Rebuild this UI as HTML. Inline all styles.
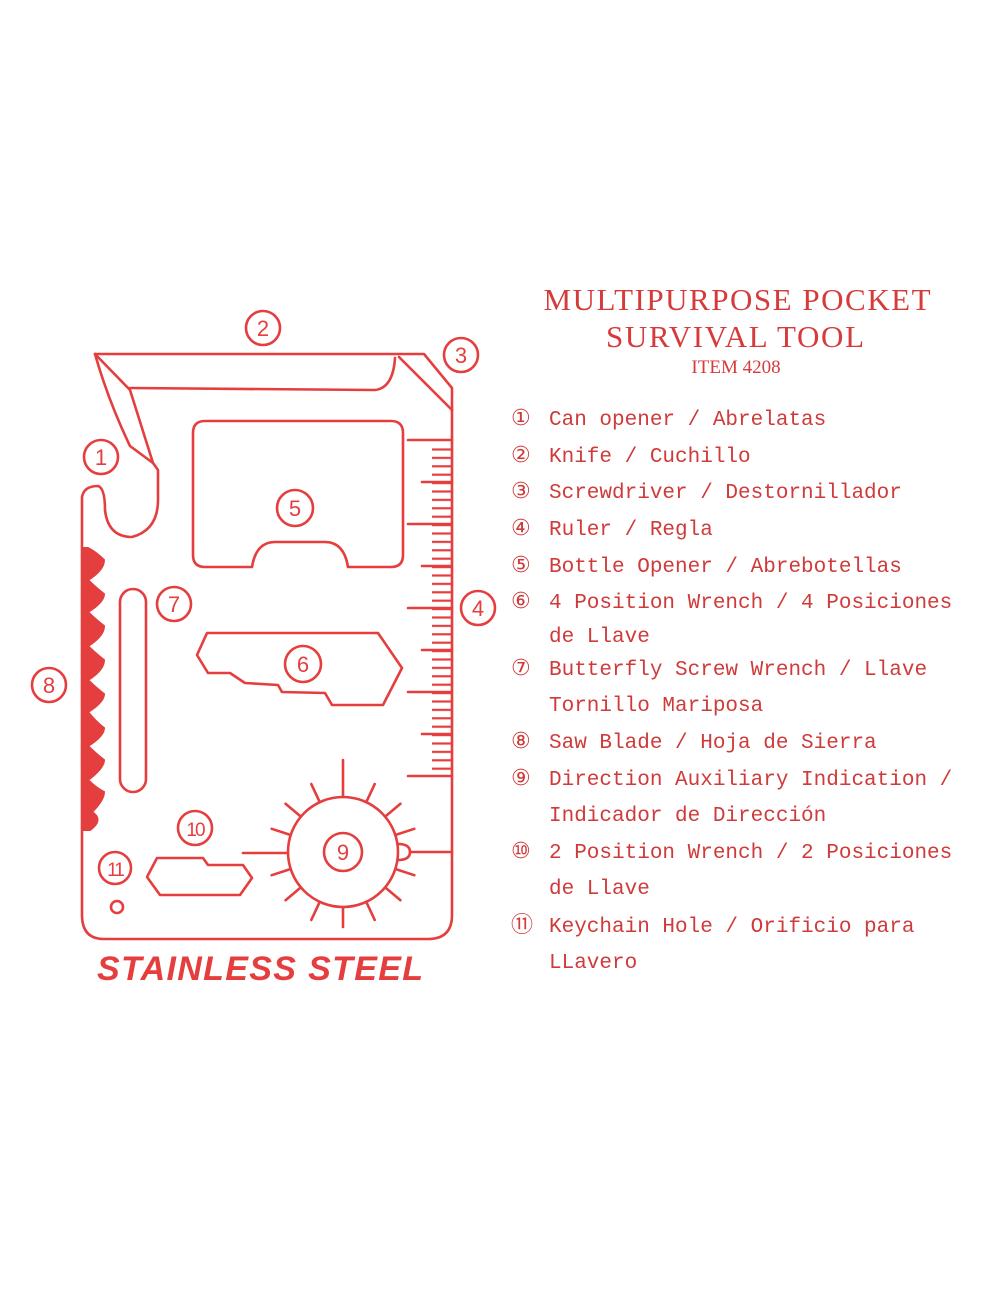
<!DOCTYPE html>
<html><head><meta charset="utf-8"><style>
html,body{margin:0;padding:0;background:#fff;}
body{width:1000px;height:1300px;position:relative;overflow:hidden;}
svg{position:absolute;left:0;top:0;}
.t{font-family:"Liberation Mono",monospace;font-size:21px;fill:#cf3a3a;}
.n{font-family:"DejaVu Sans","Noto Sans CJK JP",sans-serif;font-size:22px;fill:#cf3a3a;}
</style></head><body>
<svg width="1000" height="1300" viewBox="0 0 1000 1300">
<defs>
<pattern id="tick" x="0" y="440" width="30" height="8.4" patternUnits="userSpaceOnUse">
<rect x="0" y="0" width="30" height="2.2" fill="#e53e3e"/>
</pattern>
</defs>
<g fill="none" stroke="#e53e3e" stroke-width="2.6" stroke-linejoin="round" stroke-linecap="round">
<path d="M95,354 L424,354 L452,388 L452,915 Q452,939 428,939 L104,939 Q82,939 82,915 L82,497 Q84,486 98,486 Q105,488 105,510 Q108,537 132,537 Q158,530 158,500 L158,470 L153,463"/>
<path d="M95,354 Q108,400 130,446 L153,463"/>
<path d="M95,354 L130,390 L153,463"/>
<path d="M130,388 L375,390 Q393,388 395,358"/>
<path d="M399,357 L452,410"/>
<path d="M205,421 L391,421 Q403,421 403,433 L403,555 Q403,567 391,567 L348,567 Q344,542 325,542 L275,542 Q256,542 252,567 L205,567 Q193,567 193,555 L193,433 Q193,421 205,421 Z"/>
<rect x="120" y="589" width="26" height="203" rx="13"/>
<polygon points="207,633 378,633 402,668 383,705 332,705 325,693 282,692 278,685 245,683 230,673 208,673 197,655"/>
<polygon points="157,858 203,858 208,865 243,865 252,878 240,895 160,895 147,877"/>
<circle cx="117" cy="907" r="6"/>
<circle cx="343" cy="852" r="55"/>
<line x1="243" y1="853" x2="288" y2="853"/>
<path d="M398,844 Q410,844 410,852 Q410,860 398,860"/>
<line x1="410" y1="852" x2="452" y2="852"/>
<line x1="343" y1="797" x2="343" y2="760"/>
<g>
<line x1="398" y1="852" x2="418" y2="852" transform="rotate(-65 343 852)"/>
<line x1="398" y1="852" x2="418" y2="852" transform="rotate(-40 343 852)"/>
<line x1="398" y1="852" x2="418" y2="852" transform="rotate(-18 343 852)"/>
<line x1="398" y1="852" x2="418" y2="852" transform="rotate(18 343 852)"/>
<line x1="398" y1="852" x2="418" y2="852" transform="rotate(40 343 852)"/>
<line x1="398" y1="852" x2="418" y2="852" transform="rotate(65 343 852)"/>
<line x1="398" y1="852" x2="418" y2="852" transform="rotate(90 343 852)"/>
<line x1="398" y1="852" x2="418" y2="852" transform="rotate(115 343 852)"/>
<line x1="398" y1="852" x2="418" y2="852" transform="rotate(140 343 852)"/>
<line x1="398" y1="852" x2="418" y2="852" transform="rotate(162 343 852)"/>
<line x1="398" y1="852" x2="418" y2="852" transform="rotate(198 343 852)"/>
<line x1="398" y1="852" x2="418" y2="852" transform="rotate(220 343 852)"/>
<line x1="398" y1="852" x2="418" y2="852" transform="rotate(245 343 852)"/>
</g>
<line x1="408" y1="440" x2="452" y2="440"/>
<line x1="408" y1="524" x2="452" y2="524"/>
<line x1="408" y1="608" x2="452" y2="608"/>
<line x1="408" y1="692" x2="452" y2="692"/>
<line x1="408" y1="776" x2="452" y2="776"/>
<line x1="422" y1="482" x2="452" y2="482"/>
<line x1="422" y1="566" x2="452" y2="566"/>
<line x1="422" y1="650" x2="452" y2="650"/>
<line x1="422" y1="734" x2="452" y2="734"/>
<circle cx="263" cy="328" r="17"/>
<circle cx="461" cy="355" r="17"/>
<circle cx="101" cy="457" r="17"/>
<circle cx="295" cy="508" r="18"/>
<circle cx="174" cy="604" r="17"/>
<circle cx="478" cy="608" r="17"/>
<circle cx="49" cy="685" r="17"/>
<circle cx="303" cy="664" r="18"/>
<circle cx="195" cy="828" r="17"/>
<circle cx="115" cy="868" r="16"/>
<circle cx="343" cy="852" r="19"/>
</g>
<rect x="432" y="443" width="20" height="332" fill="url(#tick)"/>
<path fill="#e53e3e" stroke="#e53e3e" stroke-width="2" d="M82,548 L82,830 L90,830
 Q104,820 92,812 Q104,800 104,792 Q96,788 88,780 Q104,768 104,760 Q96,754 88,746 Q104,736 104,728 Q96,722 88,712 Q104,702 104,694 Q96,688 88,680 Q104,670 104,660 Q96,654 88,646 Q104,636 104,626 Q96,620 88,612 Q104,602 104,594 Q96,588 88,580 Q104,570 104,560 Q96,552 88,548 Z"/>
<g font-family="Liberation Sans, sans-serif" font-size="22" fill="#e53e3e" text-anchor="middle">
<text x="263" y="336">2</text><text x="461" y="363">3</text><text x="101" y="465">1</text>
<text x="295" y="516">5</text><text x="174" y="612">7</text><text x="478" y="616">4</text>
<text x="49" y="693">8</text><text x="303" y="672">6</text><text x="343" y="860">9</text>
<text x="195" y="836" font-size="19" letter-spacing="-2">10</text><text x="115" y="876" font-size="19" letter-spacing="-2">11</text>
</g>
<text x="260" y="980" text-anchor="middle" font-family="Liberation Sans, sans-serif" font-weight="bold" font-style="italic" font-size="34" fill="#e53e3e" textLength="326">STAINLESS STEEL</text>
<g font-family="Liberation Serif, serif" fill="#d63a3a" text-anchor="middle">
<text x="737" y="310" font-size="31" textLength="387">MULTIPURPOSE POCKET</text>
<text x="735" y="347" font-size="31" textLength="258">SURVIVAL TOOL</text>
<text x="736" y="373" font-size="19">ITEM 4208</text>
</g>
<g class="n">
<text x="511" y="425">①</text><text x="511" y="462">②</text><text x="511" y="498">③</text>
<text x="511" y="535">④</text><text x="511" y="572">⑤</text><text x="511" y="608">⑥</text>
<text x="511" y="675">⑦</text><text x="511" y="748">⑧</text><text x="511" y="785">⑨</text>
<text x="511" y="858">⑩</text><text x="511" y="932">⑪</text>
</g>
<g class="t">
<text x="549" y="425">Can opener / Abrelatas</text>
<text x="549" y="462">Knife / Cuchillo</text>
<text x="549" y="498">Screwdriver / Destornillador</text>
<text x="549" y="535">Ruler / Regla</text>
<text x="549" y="572">Bottle Opener / Abrebotellas</text>
<text x="549" y="608">4 Position Wrench / 4 Posiciones</text>
<text x="549" y="642">de Llave</text>
<text x="549" y="675">Butterfly Screw Wrench / Llave</text>
<text x="549" y="711">Tornillo Mariposa</text>
<text x="549" y="748">Saw Blade / Hoja de Sierra</text>
<text x="549" y="785">Direction Auxiliary Indication /</text>
<text x="549" y="821">Indicador de Dirección</text>
<text x="549" y="858">2 Position Wrench / 2 Posiciones</text>
<text x="549" y="894">de Llave</text>
<text x="549" y="932">Keychain Hole / Orificio para</text>
<text x="549" y="968">LLavero</text>
</g>
</svg>
</body></html>
